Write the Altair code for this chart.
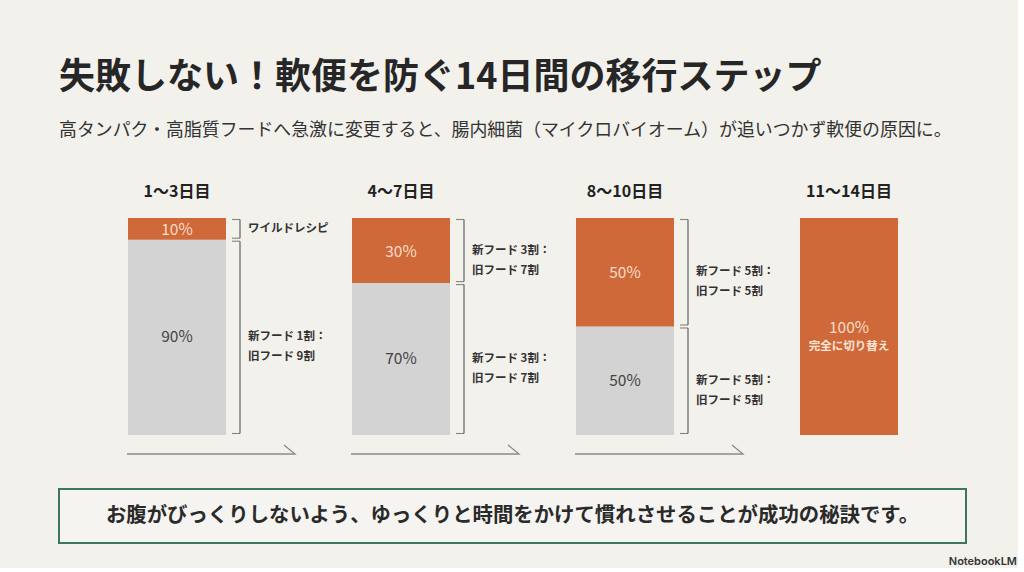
import altair as alt
import pandas as pd

FONT = "Noto Sans CJK JP"
BG = "#f2f1ec"
ORANGE = "#d0693a"
GRAY = "#d3d3d3"

title_text = "失敗しない！軟便を防ぐ14日間の移行ステップ"
subtitle_text = "高タンパク・高脂質フードへ急激に変更すると、腸内細菌（マイクロバイオーム）が追いつかず軟便の原因に。"
footer_text = "お腹がびっくりしないよう、ゆっくりと時間をかけて慣れさせることが成功の秘訣です。"

stages = ["1〜3日目", "4〜7日目", "8〜10日目", "11〜14日目"]
old_pct = [90, 70, 50, 0]
new_pct = [10, 30, 50, 100]
old_notes = ["新フード 1割：\n旧フード 9割", "新フード 3割：\n旧フード 7割", "新フード 5割：\n旧フード 5割", ""]
new_notes = ["ワイルドレシピ", "新フード 3割：\n旧フード 7割", "新フード 5割：\n旧フード 5割", ""]
full_caption = ["", "", "", "完全に切り替え"]

rows = []
for i, s in enumerate(stages):
    o, n = old_pct[i], new_pct[i]
    if o > 0:
        rows.append(dict(stage=s, kind="旧フード", lo=0, hi=o, mid=o / 2, label=f"{o}%", note=old_notes[i], cap=""))
    if n > 0:
        rows.append(dict(stage=s, kind="新フード", lo=o, hi=o + n, mid=o + n / 2, label=f"{n}%", note=new_notes[i], cap=full_caption[i]))
df = pd.DataFrame(rows)
stage_df = pd.DataFrame({"stage": stages, "has_arrow": [1, 1, 1, 0]})

xenc = alt.X("stage:N", sort=stages,
             scale=alt.Scale(domain=stages, paddingInner=0, paddingOuter=0.0268),
             axis=alt.Axis(orient="top", title=None, domain=False, ticks=False, labelAngle=0,
                           labelFont=FONT, labelFontSize=16, labelFontWeight="bold",
                           labelColor="#222222", labelPadding=19))
yscale = alt.Scale(domain=[0, 100], nice=False)

base = alt.Chart(df)

bars = base.mark_bar(width=98).encode(
    x=xenc,
    y=alt.Y("lo:Q", scale=yscale, axis=None),
    y2="hi:Q",
    color=alt.Color("kind:N", scale=alt.Scale(domain=["旧フード", "新フード"], range=[GRAY, ORANGE]), legend=None),
)

pct_old = base.transform_filter("datum.kind == '旧フード'").mark_text(
    font=FONT, fontSize=15.5, color="#444444", baseline="middle"
).encode(x=alt.X("stage:N", sort=stages), y=alt.Y("mid:Q"), text="label:N")

pct_new = base.transform_filter("datum.kind == '新フード'").mark_text(
    font=FONT, fontSize=15.5, color="#f8dcc8", baseline="middle", dy=1
).encode(x=alt.X("stage:N", sort=stages), y=alt.Y("mid:Q"), text="label:N")

cap = base.transform_filter("datum.cap != ''").mark_text(
    font=FONT, fontSize=11.5, fontWeight="bold", color="#fbe6d8", baseline="middle", dy=20
).encode(x=alt.X("stage:N", sort=stages), y=alt.Y("mid:Q"), text="cap:N")

brk = base.transform_filter("datum.note != ''")

br_v = brk.mark_rule(color="#555555", strokeWidth=1.1, xOffset=63, yOffset=-1.5, y2Offset=1.5).encode(
    x=alt.X("stage:N", sort=stages), y="lo:Q", y2="hi:Q")
br_top = brk.mark_tick(color="#555555", thickness=1.1, size=8, orient="horizontal", xOffset=59, yOffset=1.5).encode(
    x=alt.X("stage:N", sort=stages), y="hi:Q")
br_bot = brk.mark_tick(color="#555555", thickness=1.1, size=8, orient="horizontal", xOffset=59, yOffset=-1.5).encode(
    x=alt.X("stage:N", sort=stages), y="lo:Q")

notes = brk.mark_text(font=FONT, fontSize=11.5, fontWeight="bold", color="#333333", align="left",
                      baseline="middle", dx=71, lineBreak="\n", lineHeight=20).encode(
    x=alt.X("stage:N", sort=stages), y="mid:Q", text="note:N")

arrows = alt.Chart(stage_df).transform_filter("datum.has_arrow == 1").transform_calculate(zero="0").mark_point(
    shape="M-50,0L118,0L107,-9", size=4, filled=False, opacity=1, stroke="#8a8a8a", strokeWidth=1.3,
    yOffset=19
).encode(x=alt.X("stage:N", sort=stages), y=alt.Y("zero:Q", scale=yscale))

main = alt.layer(bars, pct_old, pct_new, cap, br_v, br_top, br_bot, notes, arrows).properties(
    width=908, height=217, view=alt.ViewBackground(stroke=None, fill=None))

footer_df = pd.DataFrame({"msg": [footer_text]})
box_text = alt.Chart(footer_df).mark_text(font=FONT, fontSize=20.4, fontWeight="bold", color="#2a2a2a",
                                          baseline="middle").encode(text="msg:N")
brand_df = pd.DataFrame({"brand": ["NotebookLM"]})
brand = alt.Chart(brand_df).mark_text(font="Inter", fontSize=11, fontWeight=600, color="#333333",
                                      align="right", baseline="middle").encode(
    text="brand:N", x=alt.value(958), y=alt.value(73))
box = alt.layer(box_text, brand).properties(
    width=907, height=54,
    view=alt.ViewBackground(stroke="#3d7658", strokeWidth=2, fill="#f5f4f0"))

chart = alt.vconcat(main, box, spacing=31).properties(
    title=alt.TitleParams(text=title_text, subtitle=subtitle_text, anchor="start", dx=1,
                          font=FONT, fontSize=36, fontWeight="bold", color="#262626",
                          subtitleFont=FONT, subtitleFontSize=17.9, subtitleColor="#333333",
                          subtitlePadding=25, offset=42),
    padding={"left": 58, "top": 60, "right": 0, "bottom": 0},
    background=BG,
).configure_view(stroke=None)

chart.save("out.html", embed_options={"renderer": "svg", "actions": False})
